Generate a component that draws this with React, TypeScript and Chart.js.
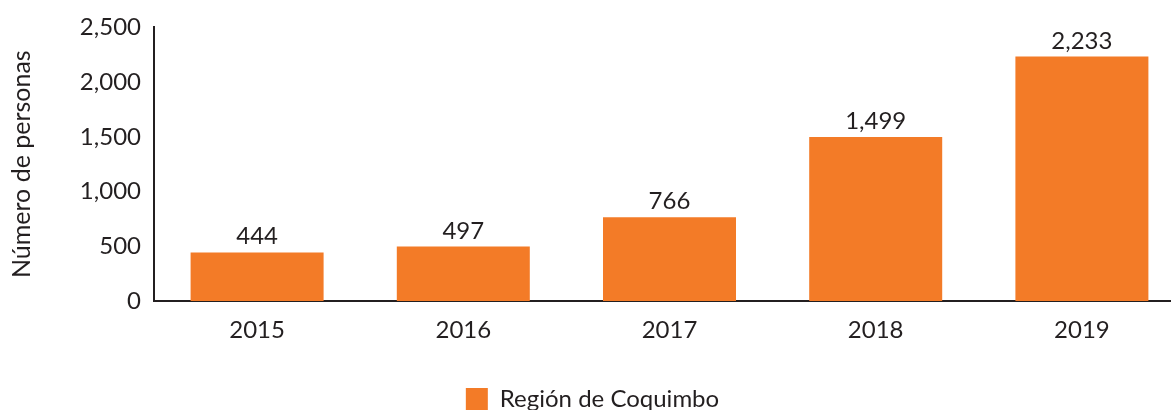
import React, { useEffect, useRef } from "react";
import { Chart, registerables } from "chart.js";

Chart.register(...registerables);

const categories = ["2015", "2016", "2017", "2018", "2019"];
const values = [444, 497, 766, 1499, 2233];
const seriesName = "Región de Coquimbo";
const yTitle = "Número de personas";
const yMin = 0;
const yMax = 2500;
const yStep = 500;

const TEXT = "#231F20";
const ORANGE = "#F37B27";
const FONT = "Lato, 'Open Sans', sans-serif";

const fmt = (v: number) => v.toLocaleString("en-US");

const dataLabels = {
  id: "dataLabels",
  afterDatasetsDraw(chart: any) {
    const ctx = chart.ctx;
    const meta = chart.getDatasetMeta(0);
    ctx.save();
    ctx.fillStyle = TEXT;
    ctx.font = `24px ${FONT}`;
    ctx.textAlign = "center";
    ctx.textBaseline = "alphabetic";
    meta.data.forEach((bar: any, i: number) => {
      ctx.fillText(fmt(values[i]), bar.x, bar.y - 8);
    });
    ctx.restore();
  },
};

export default function App() {
  const ref = useRef<HTMLCanvasElement | null>(null);
  useEffect(() => {
    if (!ref.current) return;
    const chart = new Chart(ref.current, {
      type: "bar",
      data: {
        labels: categories,
        datasets: [
          {
            label: seriesName,
            data: values,
            backgroundColor: ORANGE,
            borderWidth: 0,
            categoryPercentage: 1,
            barPercentage: 0.645,
          },
        ],
      },
      options: {
        animation: false,
        responsive: false,
        maintainAspectRatio: false,
        layout: { padding: { top: 27, left: 0, right: 0, bottom: 0 } },
        plugins: {
          tooltip: { enabled: false },
          legend: {
            position: "bottom",
            labels: {
              boxWidth: 22,
              boxHeight: 22,
              padding: 10,
              color: TEXT,
              font: { family: FONT, size: 24 },
            },
          },
        },
        scales: {
          x: {
            grid: { display: false, drawTicks: false },
            border: { display: true, color: TEXT, width: 2 },
            ticks: { color: TEXT, font: { family: FONT, size: 24 }, padding: 15 },
            afterFit: (s: any) => {
              s.height = 76;
            },
          },
          y: {
            min: yMin,
            max: yMax,
            grid: { display: false, drawTicks: false },
            border: { display: true, color: TEXT, width: 2 },
            ticks: {
              stepSize: yStep,
              color: TEXT,
              font: { family: FONT, size: 24 },
              padding: 13,
              callback: (v: any) => fmt(Number(v)),
            },
            title: {
              display: true,
              text: yTitle,
              color: TEXT,
              font: { family: FONT, size: 25 },
              padding: { top: 7, bottom: 0 },
            },
            afterFit: (s: any) => {
              s.width = 154;
            },
          },
        },
      },
      plugins: [dataLabels],
    });
    return () => chart.destroy();
  }, []);
  return (
    <div
      style={{
        position: "absolute",
        left: 0,
        top: 0,
        width: 1171,
        height: 410,
        overflow: "hidden",
        background: "#fff",
      }}
    >
      <canvas ref={ref} width={1185} height={421} style={{ display: "block" }} />
    </div>
  );
}
